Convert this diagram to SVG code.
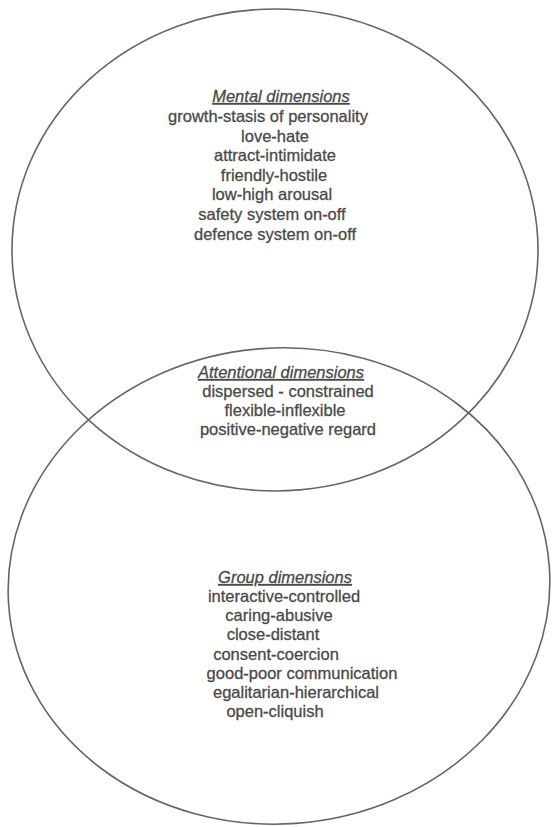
<svg xmlns="http://www.w3.org/2000/svg" width="554" height="827" viewBox="0 0 554 827">
<style>
.e{fill:none;stroke:#666;stroke-width:1.6}
text{font-family:"Liberation Sans",Arial,sans-serif;font-size:16.5px;fill:#4a4a4a;stroke:#4a4a4a;stroke-width:0.3;text-anchor:middle}
.h{font-style:italic;text-decoration:underline}
</style>
<rect width="554" height="827" fill="#fff"/>
<g id="mental">
<ellipse class="e" cx="275" cy="250" rx="263" ry="241"/>
<text class="h" x="281" y="102">Mental dimensions</text>
<text x="268" y="122">growth-stasis of personality</text>
<text x="275" y="142">love-hate</text>
<text x="275" y="161">attract-intimidate</text>
<text x="274" y="181">friendly-hostile</text>
<text x="272" y="200">low-high arousal</text>
<text x="272" y="220">safety system on-off</text>
<text x="275" y="240">defence system on-off</text>
</g>
<g id="group">
<ellipse class="e" cx="279" cy="586" rx="271" ry="238" transform="rotate(-4 279 586)"/>
<text class="h" x="285" y="583">Group dimensions</text>
<text x="284" y="602">interactive-controlled</text>
<text x="279" y="621">caring-abusive</text>
<text x="273" y="640">close-distant</text>
<text x="276" y="660">consent-coercion</text>
<text x="302" y="679">good-poor communication</text>
<text x="296" y="698">egalitarian-hierarchical</text>
<text x="275" y="717">open-cliquish</text>
</g>
<g id="attentional">
<text class="h" x="281" y="378">Attentional dimensions</text>
<text x="288" y="397">dispersed - constrained</text>
<text x="285" y="416">flexible-inflexible</text>
<text x="288" y="435">positive-negative regard</text>
</g>
<g id="connectors"></g>
</svg>
